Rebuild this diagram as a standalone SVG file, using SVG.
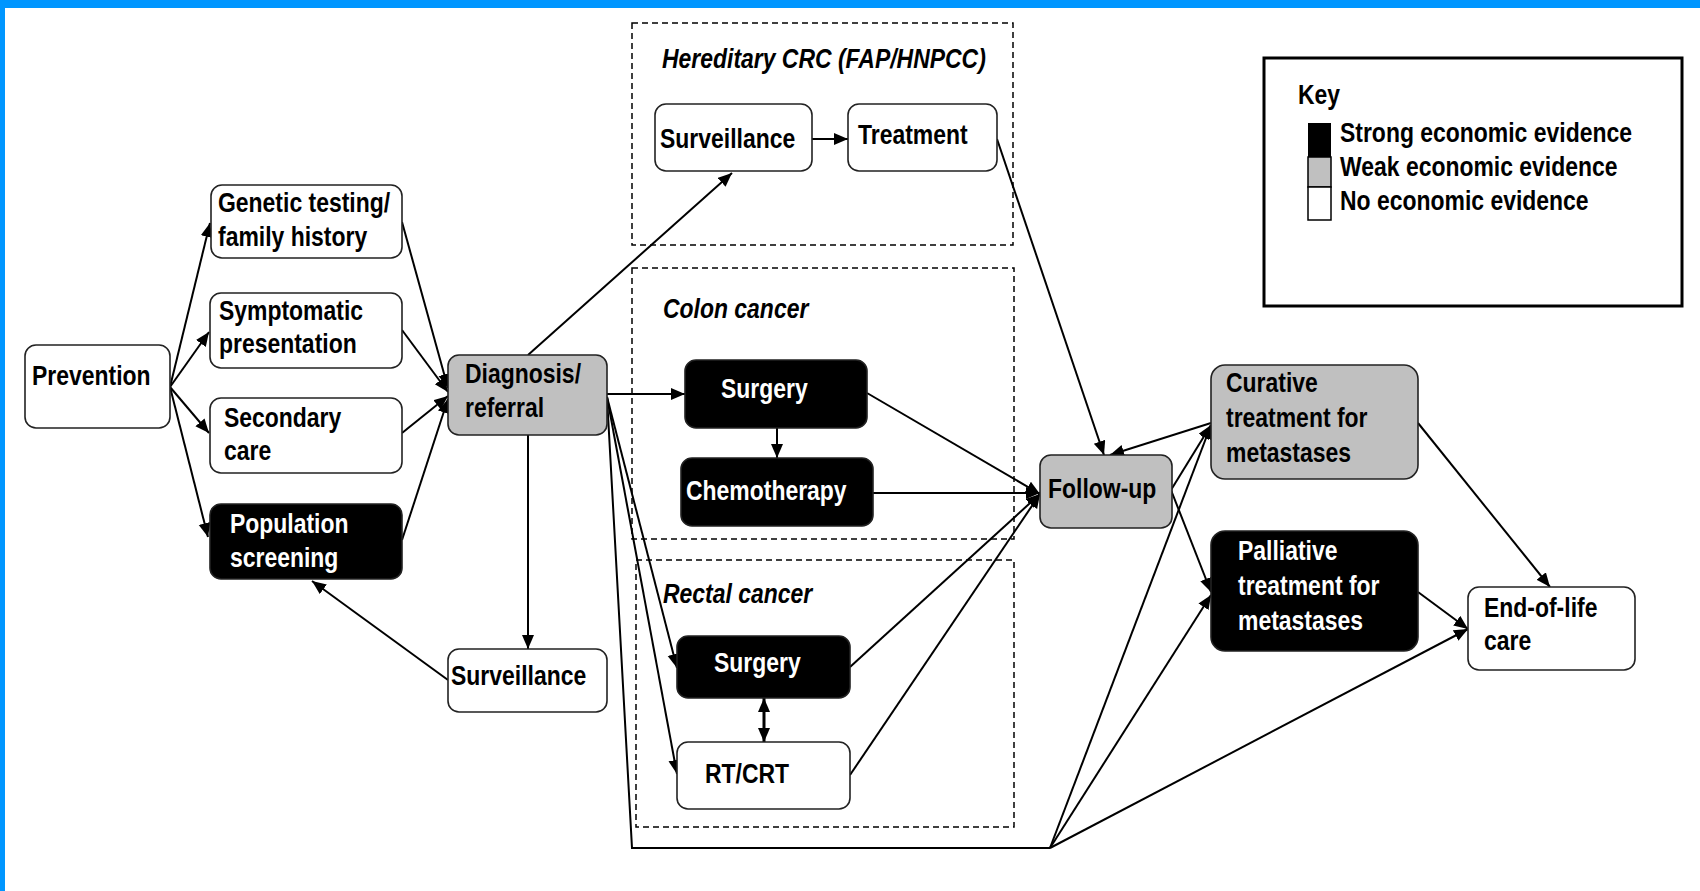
<svg xmlns="http://www.w3.org/2000/svg" width="1700" height="891" viewBox="0 0 1700 891">
<defs>
<marker id="ah" markerUnits="userSpaceOnUse" markerWidth="15" markerHeight="13" refX="14" refY="6" orient="auto"><path d="M0,0 L14,6 L0,12 z" fill="#000"/></marker>
<marker id="ahs" markerUnits="userSpaceOnUse" markerWidth="15" markerHeight="13" refX="0" refY="6" orient="auto"><path d="M14,0 L0,6 L14,12 z" fill="#000"/></marker>
</defs>
<style>
.n{stroke:#222;stroke-width:1.6}
.w{fill:#fff}.g{fill:#c0c0c0}.b{fill:#000}
.t{font-family:"Liberation Sans",Arial,sans-serif;font-weight:bold;font-size:27px;fill:#000}
.tw{fill:#fff}
.it{font-family:"Liberation Sans",Arial,sans-serif;font-weight:bold;font-style:italic;font-size:27px;fill:#000}
.d{fill:none;stroke:#000;stroke-width:1.5;stroke-dasharray:6 4}
.c{fill:none;stroke:#000;stroke-width:2}
.c path{marker-end:url(#ah)}
</style>
<rect x="0" y="0" width="1700" height="891" fill="#fff"/>
<rect x="0" y="0" width="1700" height="8" fill="#0096ff"/>
<rect x="0" y="0" width="5" height="891" fill="#0096ff"/>

<g id="groups">
<rect class="d" x="632" y="23" width="381" height="222"/>
<text class="it" transform="matrix(0.85 0 0 1 662 68)">Hereditary CRC (FAP/HNPCC)</text>
<rect class="d" x="632" y="268" width="382" height="271"/>
<text class="it" transform="matrix(0.85 0 0 1 663 318)">Colon cancer</text>
<rect class="d" x="636" y="560" width="378" height="267"/>
<text class="it" transform="matrix(0.85 0 0 1 663 603)">Rectal cancer</text>
</g>

<g id="connectors" class="c">
<path d="M170,387 L210,223"/>
<path d="M170,387 L209,332"/>
<path d="M170,387 L209,433"/>
<path d="M170,387 L208,537"/>
<path d="M402,222 L448,388"/>
<path d="M402,330 L448,392"/>
<path d="M402,433 L448,396"/>
<path d="M402,540 L448,399"/>
<path d="M528,435 L528,649"/>
<path d="M448,680 L312,581"/>
<path d="M528,355 L732,173"/>
<path d="M812,139 L848,139"/>
<path d="M997,139 L1104,455"/>
<path d="M1211,423 L1110,455"/>
<path d="M607,394 L685,394"/>
<path d="M777,428 L777,458"/>
<path d="M867,393 L1040,494"/>
<path d="M873,493 L1040,493"/>
<path d="M850,667 L1040,494"/>
<path d="M850,775 L1040,494"/>
<path d="M607,397 L677,668"/>
<path d="M607,397 L677,774"/>
<path d="M607,397 L632,848 L1050,848" style="marker-end:none"/>
<path d="M1050,848 L1211,425"/>
<path d="M1050,848 L1211,595"/>
<path d="M1050,848 L1468,629"/>
<path d="M1171,490 L1211,425"/>
<path d="M1171,490 L1211,592"/>
<path d="M1418,423 L1550,587"/>
<path d="M1418,592 L1468,629"/>
<path d="M764,698 L764,742" style="stroke-width:3;marker-start:url(#ahs)"/>
</g>

<g id="prevention"><rect class="n w" x="25" y="345" width="145" height="83" rx="11"/><text class="t" transform="matrix(0.85 0 0 1 32 385)">Prevention</text></g>
<g id="genetic"><rect class="n w" x="211" y="185" width="191" height="73" rx="11"/><text class="t" transform="matrix(0.85 0 0 1 218 212)">Genetic testing/</text><text class="t" transform="matrix(0.85 0 0 1 218 246)">family history</text></g>
<g id="symptomatic"><rect class="n w" x="210" y="293" width="192" height="75" rx="11"/><text class="t" transform="matrix(0.85 0 0 1 219 320)">Symptomatic</text><text class="t" transform="matrix(0.85 0 0 1 219 353)">presentation</text></g>
<g id="secondary"><rect class="n w" x="210" y="398" width="192" height="75" rx="11"/><text class="t" transform="matrix(0.85 0 0 1 224 427)">Secondary</text><text class="t" transform="matrix(0.85 0 0 1 224 460)">care</text></g>
<g id="population"><rect class="n b" x="210" y="504" width="192" height="75" rx="11"/><text class="t tw" transform="matrix(0.85 0 0 1 230 533)">Population</text><text class="t tw" transform="matrix(0.85 0 0 1 230 567)">screening</text></g>
<g id="diagnosis"><rect class="n g" x="448" y="355" width="159" height="80" rx="11"/><text class="t" transform="matrix(0.85 0 0 1 465 383)">Diagnosis/</text><text class="t" transform="matrix(0.85 0 0 1 465 417)">referral</text></g>
<g id="surveillance"><rect class="n w" x="448" y="649" width="159" height="63" rx="11"/><text class="t" transform="matrix(0.85 0 0 1 451 685)">Surveillance</text></g>
<g id="hered-surveillance"><rect class="n w" x="655" y="104" width="157" height="67" rx="11"/><text class="t" transform="matrix(0.85 0 0 1 660 148)">Surveillance</text></g>
<g id="hered-treatment"><rect class="n w" x="848" y="104" width="149" height="67" rx="11"/><text class="t" transform="matrix(0.85 0 0 1 858 144)">Treatment</text></g>
<g id="colon-surgery"><rect class="n b" x="685" y="360" width="182" height="68" rx="11"/><text class="t tw" transform="matrix(0.85 0 0 1 721 398)">Surgery</text></g>
<g id="chemotherapy"><rect class="n b" x="681" y="458" width="192" height="68" rx="11"/><text class="t tw" transform="matrix(0.85 0 0 1 686 500)">Chemotherapy</text></g>
<g id="rectal-surgery"><rect class="n b" x="677" y="636" width="173" height="62" rx="11"/><text class="t tw" transform="matrix(0.85 0 0 1 714 672)">Surgery</text></g>
<g id="rtcrt"><rect class="n w" x="677" y="742" width="173" height="67" rx="11"/><text class="t" transform="matrix(0.85 0 0 1 705 783)">RT/CRT</text></g>
<g id="followup"><rect class="n g" x="1040" y="455" width="132" height="73" rx="11"/><text class="t" transform="matrix(0.85 0 0 1 1048 498)">Follow-up</text></g>
<g id="curative"><rect class="n g" x="1211" y="365" width="207" height="114" rx="14"/><text class="t" transform="matrix(0.85 0 0 1 1226 392)">Curative</text><text class="t" transform="matrix(0.85 0 0 1 1226 427)">treatment for</text><text class="t" transform="matrix(0.85 0 0 1 1226 462)">metastases</text></g>
<g id="palliative"><rect class="n b" x="1211" y="531" width="207" height="120" rx="14"/><text class="t tw" transform="matrix(0.85 0 0 1 1238 560)">Palliative</text><text class="t tw" transform="matrix(0.85 0 0 1 1238 595)">treatment for</text><text class="t tw" transform="matrix(0.85 0 0 1 1238 630)">metastases</text></g>
<g id="endoflife"><rect class="n w" x="1468" y="587" width="167" height="83" rx="11"/><text class="t" transform="matrix(0.85 0 0 1 1484 617)">End-of-life</text><text class="t" transform="matrix(0.85 0 0 1 1484 650)">care</text></g>

<g id="key">
<rect x="1264" y="58" width="418" height="248" fill="#fff" stroke="#000" stroke-width="3"/>
<text class="t" transform="matrix(0.85 0 0 1 1298 104)">Key</text>
<rect x="1308" y="123" width="23" height="34" fill="#000"/>
<rect x="1308" y="157" width="23" height="30" fill="#c0c0c0" stroke="#000" stroke-width="1.5"/>
<rect x="1308" y="187" width="23" height="33" fill="#fff" stroke="#000" stroke-width="1.5"/>
<text class="t" transform="matrix(0.85 0 0 1 1340 142)">Strong economic evidence</text>
<text class="t" transform="matrix(0.85 0 0 1 1340 176)">Weak economic evidence</text>
<text class="t" transform="matrix(0.85 0 0 1 1340 210)">No economic evidence</text>
</g>
</svg>
